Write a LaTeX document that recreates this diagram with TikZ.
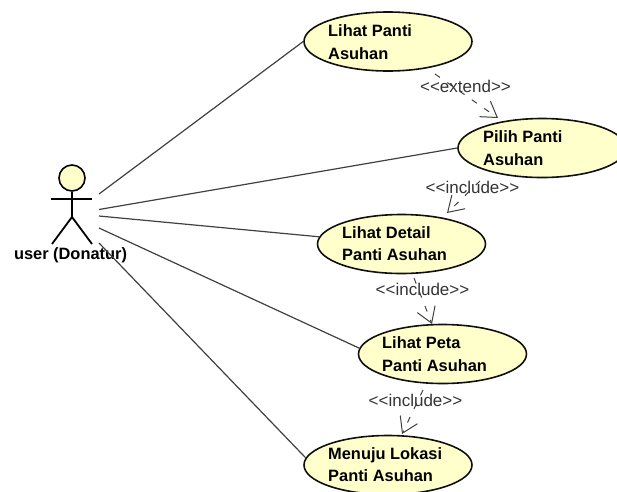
\documentclass[tikz,border=0pt]{standalone}
\usepackage{fontspec}
\setmainfont{Liberation Sans}
\usetikzlibrary{shapes.geometric,arrows.meta}
\definecolor{ucfill}{HTML}{FFFFCC}
\definecolor{ucline}{HTML}{101010}
\definecolor{assoc}{HTML}{404040}
\tikzset{
  usecase/.style={ellipse,draw=ucline,fill=ucfill,line width=1.6pt,minimum width=168pt,minimum height=59pt,inner sep=0pt},
  uctext/.style={font=\fontsize{16.4}{22.5}\selectfont\bfseries,align=left,inner sep=0pt,text=black},
  assocline/.style={draw=assoc,line width=1.2pt},
  depline/.style={draw=assoc,line width=1pt,dash pattern=on 6pt off 9pt,-{Straight Barb[length=15pt,width=19pt,line width=1pt]}},
  stereo/.style={font=\fontsize{17}{18}\selectfont,inner sep=0pt,text=black!80},
  stick/.style={draw=black,line width=1.8pt}
}
\begin{document}
\begin{tikzpicture}[x=1pt,y=-1pt]
\useasboundingbox (0,0) rectangle (617,491);
\clip (0,0) rectangle (617,491);
% actor
\node[circle,draw=black,fill=ucfill,line width=1.6pt,minimum size=26pt,inner sep=0pt] (head) at (72,178) {};
\coordinate (armL) at (51,199);
\coordinate (armR) at (92,199);
\coordinate (hip) at (72,217);
\coordinate (legL) at (52,244);
\coordinate (legR) at (92,244);
\draw[stick] (head.south) -- (hip);
\draw[stick] (armL) -- (armR);
\draw[stick] (legL) -- (hip) -- (legR);
\node[font=\fontsize{16.4}{18}\selectfont\bfseries,inner sep=0pt] (actorlabel) at (70.5,255) {user (Donatur)};
% use cases
\node[usecase] (e1) at (388,41.5) {};
\node[usecase] (e2) at (542,148) {};
\node[usecase] (e3) at (401.5,244) {};
\node[usecase] (e4) at (442.5,354) {};
\node[usecase] (e5) at (388,465) {};
\node[uctext,anchor=west] (t1) at (328,42) {Lihat Panti\\Asuhan};
\node[uctext,anchor=west] (t2) at (483,148) {Pilih Panti\\Asuhan};
\node[uctext,anchor=west] (t3) at (342,243.5) {Lihat Detail\\Panti Asuhan};
\node[uctext,anchor=west] (t4) at (382,354) {Lihat Peta\\Panti Asuhan};
\node[uctext,anchor=west] (t5) at (328,464.5) {Menuju Lokasi\\Panti Asuhan};
% actor ends
\coordinate (a1) at (99,194);
\coordinate (a2) at (99,209.5);
\coordinate (a3) at (99,216);
\coordinate (a4) at (99,228);
\coordinate (a5) at (99,243);
\draw[assocline] (a1) -- (e1.west);
\draw[assocline] (a2) -- (e2.west);
\draw[assocline] (a3) -- (e3.175);
\draw[assocline] (a4) -- (e4.176);
\draw[assocline] (a5) -- (e5.175);
% dependencies
\coordinate (s1) at (435,74);
\coordinate (d1) at (498,118);
\coordinate (s2) at (480,181);
\coordinate (d2) at (447,213);
\coordinate (s3) at (414,278);
\coordinate (d3) at (432,324);
\coordinate (s4) at (423,390);
\coordinate (d4) at (402,434);
\draw[depline] (s1) -- (d1);
\draw[depline] (s2) -- (d2);
\draw[depline] (s3) -- (d3);
\draw[depline] (s4) -- (d4);
\node[stereo] (l1) at (465.5,86) {<{}<extend>{}>};
\node[stereo] (l2) at (472.5,187) {<{}<include>{}>};
\node[stereo] (l3) at (422.5,289.5) {<{}<include>{}>};
\node[stereo] (l4) at (415.5,400) {<{}<include>{}>};
\end{tikzpicture}
\end{document}
